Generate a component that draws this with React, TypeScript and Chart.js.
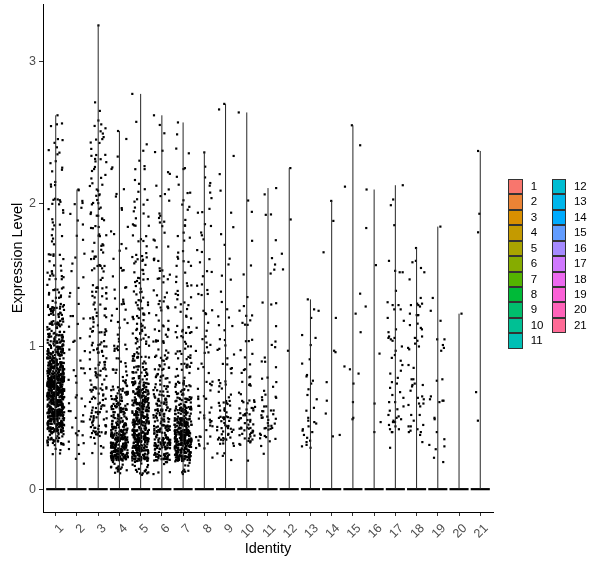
import React, { useEffect, useRef } from 'react';
import { Chart, registerables } from 'chart.js';

Chart.register(...registerables);

// ---------- data ----------
const identities = ['1', '2', '3', '4', '5', '6', '7', '8', '9', '10', '11', '12', '13', '14', '15', '16', '17', '18', '19', '20', '21'];

// number of non-zero cells per 0.1-wide expression bin (bin k covers [0.1k, 0.1k+0.1))
const binWidth = 0.1;
const binCounts: number[][] = [
  [0, 0, 4, 32, 90, 115, 125, 120, 100, 65, 45, 34, 27, 13, 10, 8, 6, 5, 5, 5, 5, 4, 5, 4, 3, 3],
  [0, 1, 3, 6, 5, 4, 4, 3, 4, 3, 3, 3, 3, 2, 2, 2, 2, 2, 2, 3, 3],
  [0, 0, 3, 13, 19, 17, 14, 14, 14, 12, 12, 10, 10, 9, 8, 9, 7, 8, 7, 7, 7, 6, 6, 6, 6, 5, 1, 1],
  [0, 16, 100, 90, 50, 38, 26, 12, 8, 7, 6, 5, 5, 4, 3, 3, 3, 2, 2, 2, 2, 1, 2, 1, 1],
  [0, 20, 80, 90, 68, 66, 60, 32, 21, 15, 14, 12, 12, 10, 9, 8, 7, 6, 5, 5, 4, 3, 3, 2, 1, 1],
  [0, 6, 44, 50, 38, 30, 23, 16, 12, 10, 9, 8, 7, 6, 5, 5, 4, 4, 3, 3, 3, 2, 2, 2, 1, 1],
  [0, 11, 90, 110, 78, 44, 27, 16, 12, 10, 9, 8, 7, 6, 5, 5, 4, 4, 3, 3, 3, 2, 2, 2, 1],
  [0, 0, 3, 8, 8, 6, 5, 5, 4, 4, 4, 3, 4, 4, 3, 3, 3, 3, 2, 3, 2, 3, 1],
  [0, 0, 4, 15, 18, 14, 8, 6, 5, 4, 3, 3, 3, 2, 2, 1, 1, 2, 1, 1, 1, 0, 1, 1, 0, 0, 1],
  [0, 0, 1, 15, 18, 12, 8, 6, 4, 3, 3, 4, 4, 1, 0, 2, 0, 1, 0, 1, 1],
  [0, 0, 1, 8, 12, 10, 6, 4, 3, 2, 2, 1, 1, 2, 0, 3, 1, 1, 0, 2, 1],
  [], [], [], [], [], [], [], [], [], [],
];

// individually read values (sparse identities, and the top cell of the dense ones)
const listedValues: number[][] = [
  [2.62],
  [2.10],
  [3.25],
  [2.51],
  [2.77],
  [2.62],
  [2.57],
  [2.36],
  [2.70],
  [2.64],
  [2.11],
  [0.97, 1.54, 1.65, 1.89, 2.25],
  [0.29, 0.30, 0.31, 0.33, 0.34, 0.36, 0.38, 0.40, 0.41, 0.42, 0.44, 0.46, 0.47, 0.48, 0.50, 0.55, 0.57, 0.63, 0.66, 0.70, 0.74, 0.76, 0.79, 0.80, 0.88, 0.91, 1.01, 1.06, 1.08, 1.20, 1.25, 1.26, 1.33],
  [0.37, 0.38, 0.53, 0.62, 0.75, 0.96, 0.97, 1.20, 1.66, 1.88, 2.02],
  [0.49, 0.50, 0.61, 0.74, 0.81, 0.84, 0.86, 1.10, 1.23, 1.37, 2.12, 2.41, 2.55],
  [0.40, 0.47, 0.60, 0.95, 1.28, 1.57, 1.83, 2.10],
  [0.29, 0.40, 0.40, 0.42, 0.42, 0.44, 0.45, 0.47, 0.47, 0.48, 0.49, 0.50, 0.51, 0.52, 0.55, 0.56, 0.58, 0.61, 0.61, 0.64, 0.66, 0.68, 0.71, 0.74, 0.75, 0.78, 0.81, 0.83, 0.87, 0.90, 0.92, 0.94, 0.97, 1.00, 1.04, 1.05, 1.06, 1.06, 1.07, 1.10, 1.12, 1.18, 1.20, 1.26, 1.26, 1.29, 1.29, 1.31, 1.39, 1.52, 1.52, 1.53, 1.60, 1.85, 1.99, 2.03, 2.13],
  [0.33, 0.38, 0.40, 0.40, 0.41, 0.42, 0.44, 0.44, 0.45, 0.48, 0.52, 0.52, 0.58, 0.59, 0.60, 0.60, 0.63, 0.64, 0.65, 0.69, 0.72, 0.73, 0.73, 0.74, 0.77, 0.77, 0.85, 0.87, 0.98, 0.99, 1.00, 1.02, 1.04, 1.06, 1.07, 1.12, 1.13, 1.15, 1.16, 1.22, 1.22, 1.22, 1.23, 1.28, 1.29, 1.29, 1.30, 1.30, 1.34, 1.47, 1.52, 1.55, 1.59, 1.60, 1.69],
  [0.19, 0.22, 0.28, 0.30, 0.31, 0.35, 0.40, 0.49, 0.50, 0.61, 0.62, 0.62, 0.63, 0.65, 0.76, 0.77, 0.97, 0.99, 1.01, 1.05, 1.05, 1.18, 1.25, 1.34, 1.84],
  [1.23],
  [0.48, 0.68, 1.80, 1.93, 2.37],
];

const yTicks = [0, 1, 2, 3];
const yRange = [-0.16, 3.40];
const xTitle = 'Identity';
const yTitle = 'Expression Level';

// ---------- styling helpers ----------
const FONT = '"Liberation Sans", Arial, Helvetica, sans-serif';

// reproducible spreading (geom_jitter style) inside a bin / across the jitter width
function spread(n: number): number {
  const s = Math.sin(n * 12.9898 + 78.233) * 43758.5453;
  return s - Math.floor(s);
}

// ggplot2 default hue palette (hcl, c = 100, l = 65)
function hcl(h: number, c: number, l: number): string {
  const hr = (h * Math.PI) / 180;
  const U = c * Math.cos(hr);
  const V = c * Math.sin(hr);
  const Xn = 95.047, Yn = 100, Zn = 108.883;
  const Y = Yn * (l > 8 ? Math.pow((l + 16) / 116, 3) : l / 903.2963);
  const un = (4 * Xn) / (Xn + 15 * Yn + 3 * Zn);
  const vn = (9 * Yn) / (Xn + 15 * Yn + 3 * Zn);
  const u = U / (13 * l) + un;
  const v = V / (13 * l) + vn;
  const X = (Y * 9 * u) / (4 * v);
  const Z = (Y * (12 - 3 * u - 20 * v)) / (4 * v);
  const x = X / 100, y = Y / 100, z = Z / 100;
  const lin = [
    3.240479 * x - 1.53715 * y - 0.498535 * z,
    -0.969256 * x + 1.875992 * y + 0.041556 * z,
    0.055648 * x - 0.204043 * y + 1.057311 * z,
  ];
  const g = (t: number) => {
    const s = t <= 0.0031308 ? 12.92 * t : 1.055 * Math.pow(t, 1 / 2.4) - 0.055;
    return Math.round(255 * Math.min(1, Math.max(0, s)));
  };
  return `rgb(${lin.map(g).join(',')})`;
}

const palette = identities.map((_, i) => hcl(15 + (360 / identities.length) * i, 100, 65));

export default function App() {
  const canvasRef = useRef<HTMLCanvasElement>(null);

  useEffect(() => {
    const canvas = canvasRef.current;
    if (!canvas) return;

    const points: { x: number; y: number }[] = [];
    const datasets: any[] = [];
    let t = 0;

    identities.forEach((_, g) => {
      const center = g + 1;
      const values: number[] = [];
      binCounts[g].forEach((n, k) => {
        for (let j = 0; j < n; j++) {
          values.push((k + spread(t * 2 + 1)) * binWidth);
          t++;
        }
      });
      listedValues[g].forEach((v) => values.push(v));
      values.forEach((v) => {
        points.push({ x: center + (spread(t * 2 + 7.3) - 0.5) * 0.8, y: v });
        t++;
      });
      const top = Math.max(...values);

      // violin: a thin stem up to the top cell, and the wide flat base at zero
      datasets.push({
        type: 'line',
        data: [{ x: center, y: 0 }, { x: center, y: top }],
        borderColor: '#262626',
        borderWidth: 1,
        pointRadius: 0,
        showLine: true,
        fill: false,
      });
      datasets.push({
        type: 'line',
        data: [{ x: center - 0.45, y: 0 }, { x: center + 0.45, y: 0 }],
        borderColor: '#000000',
        backgroundColor: palette[g],
        borderWidth: 2.2,
        pointRadius: 0,
        showLine: true,
        fill: false,
      });
    });

    datasets.push({
      type: 'scatter',
      data: points,
      pointStyle: 'rect',
      pointRadius: 1.55,
      backgroundColor: '#000000',
      borderWidth: 0,
    });

    const chart = new Chart(canvas, {
      type: 'scatter',
      data: { datasets },
      options: {
        animation: false,
        responsive: true,
        maintainAspectRatio: false,
        devicePixelRatio: 1,
        events: [],
        layout: { padding: { left: 0, right: 107, top: 3, bottom: 0 } },
        plugins: { legend: { display: false }, tooltip: { enabled: false } },
        scales: {
          x: {
            type: 'linear',
            min: 0.4,
            max: identities.length + 0.6,
            afterBuildTicks: (s: any) => {
              s.ticks = identities.map((_, i) => ({ value: i + 1 }));
            },
            afterFit: (s: any) => {
              s.height = 56;
              s.paddingLeft = 0;
              s.paddingRight = 0;
            },
            ticks: {
              autoSkip: false,
              minRotation: 45,
              maxRotation: 45,
              padding: 5,
              labelOffset: 6,
              color: '#4D4D4D',
              font: { family: FONT, size: 12.5 },
              callback: (_v: any, i: number) => identities[i],
            },
            grid: { display: true, drawOnChartArea: false, drawTicks: true, tickLength: 4, color: '#333333', lineWidth: 1 },
            border: { display: true, color: '#000000', width: 1 },
            title: {
              display: true,
              text: xTitle,
              color: '#000000',
              font: { family: FONT, size: 14.5 },
              padding: { top: 0, bottom: 10 },
            },
          },
          y: {
            type: 'linear',
            min: yRange[0],
            max: yRange[1],
            afterBuildTicks: (s: any) => {
              s.ticks = yTicks.map((v) => ({ value: v }));
            },
            afterFit: (s: any) => {
              s.width = 43;
              s.paddingTop = 0;
              s.paddingBottom = 0;
            },
            ticks: {
              padding: 3,
              color: '#4D4D4D',
              font: { family: FONT, size: 12.5 },
              callback: (v: any) => String(v),
            },
            grid: { display: true, drawOnChartArea: false, drawTicks: true, tickLength: 4, color: '#333333', lineWidth: 1 },
            border: { display: true, color: '#000000', width: 1 },
            title: {
              display: true,
              text: yTitle,
              color: '#000000',
              font: { family: FONT, size: 14.5 },
              padding: { top: 9, bottom: 0 },
            },
          },
        },
      },
    });

    return () => chart.destroy();
  }, []);

  const rowPitch = 15.43;
  const legendTop = 179;
  const perColumn = 11;

  return (
    <div style={{ position: 'absolute', left: 0, top: 0, width: 600, height: 568, background: '#ffffff' }}>
      <canvas ref={canvasRef} />
      {identities.map((id, i) => {
        const col = i < perColumn ? 0 : 1;
        const row = col === 0 ? i : i - perColumn;
        const boxLeft = col === 0 ? 508.3 : 551.5;
        const top = legendTop + row * rowPitch;
        return (
          <React.Fragment key={id}>
            <div
              style={{
                position: 'absolute',
                left: boxLeft,
                top,
                width: 14.6,
                height: rowPitch,
                boxSizing: 'border-box',
                border: '1px solid #333333',
                background: palette[i],
              }}
            />
            <div
              style={{
                position: 'absolute',
                left: boxLeft + 22.4,
                top,
                height: rowPitch,
                lineHeight: `${rowPitch}px`,
                fontFamily: FONT,
                fontSize: 11.5,
                color: '#000000',
                whiteSpace: 'nowrap',
              }}
            >
              {id}
            </div>
          </React.Fragment>
        );
      })}
    </div>
  );
}
